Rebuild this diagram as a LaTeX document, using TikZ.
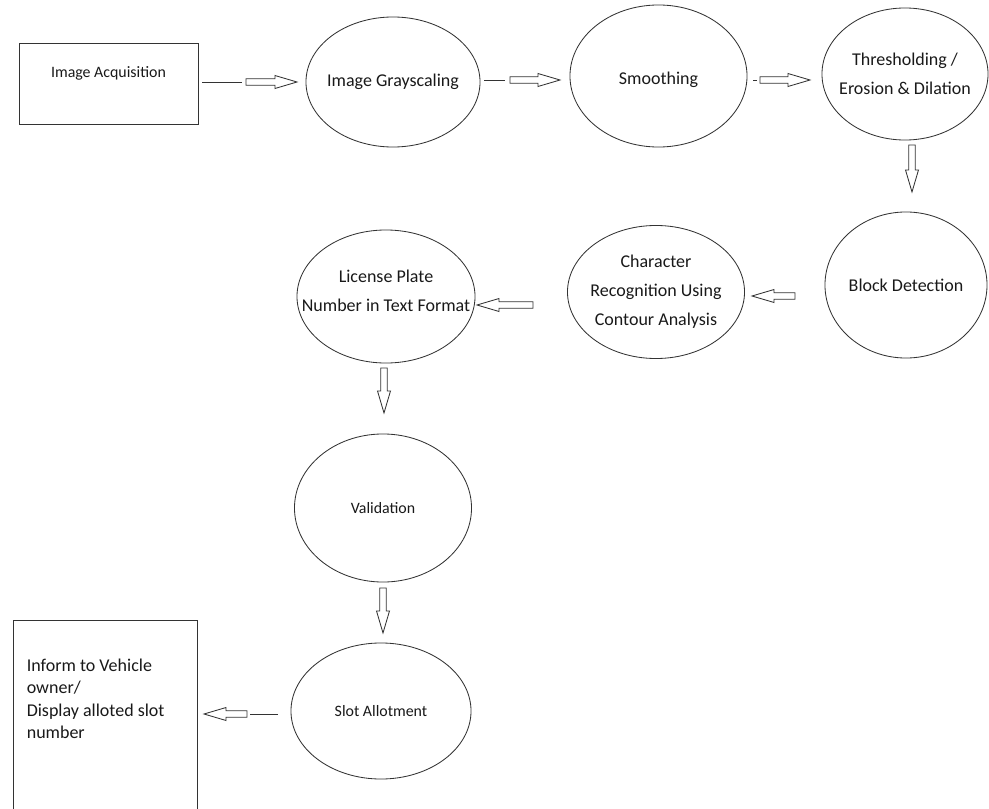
\documentclass[tikz,border=0pt]{standalone}
\usepackage{fontspec}
\setmainfont{Carlito}
\usepackage{tikz}
\usetikzlibrary{shapes.geometric,calc}
\tikzset{%
  process/.style={
    ellipse,
    draw=black!80,
    inner sep=0pt
  },
  io box/.style={
    rectangle,
    draw=black!80,
    inner sep=0pt
  },
  flow text/.style={
    text=black!90,
    align=center,
    font=\fontsize{12.8}{20.5}\selectfont
  },
  flow small/.style={
    text=black!90,
    align=center,
    font=\fontsize{11.3}{16}\selectfont
  },
  flow list/.style={
    text=black!90,
    align=left,
    font=\fontsize{12.8}{16}\selectfont
  },
  block arrow/.style={
    draw=black!80,
    fill=white,
    to path={
      ($(\tikztostart)!2.3pt!90:(\tikztotarget)$)
      -- ($(\tikztotarget)!15.6pt!(\tikztostart)!2.3pt!90:(\tikztotarget)$)
      -- ($(\tikztotarget)!15.6pt!(\tikztostart)!4.6pt!90:(\tikztotarget)$)
      -- (\tikztotarget)
      -- ($(\tikztotarget)!15.6pt!(\tikztostart)!4.6pt!-90:(\tikztotarget)$)
      -- ($(\tikztotarget)!15.6pt!(\tikztostart)!2.3pt!-90:(\tikztotarget)$)
      -- ($(\tikztostart)!2.3pt!-90:(\tikztotarget)$) -- cycle
    }
  },
}

\begin{document}
\begin{tikzpicture}[x=0.025cm, y=-0.025cm, line width=0.6pt]
\useasboundingbox (0,0) rectangle (989,809);
\clip (0,0) rectangle (989,809);

% top row
\node[io box, minimum width=4.475cm, minimum height=2.025cm,
  label={[flow small, yshift=7.5pt]center:Image Acquisition}] (acq) at (108.5,83.5) {};
\node[process, minimum width=4.35cm, minimum height=3.25cm,
  label={[flow text]center:Image Grayscaling}] (gray) at (393,82) {};
\node[process, minimum width=4.425cm, minimum height=3.55cm,
  label={[flow text, yshift=-3pt]center:Smoothing}] (smooth) at (658.5,76) {};
\node[process, minimum width=4.15cm, minimum height=3.3cm,
  label={[flow text]center:{Thresholding /\\Erosion \& Dilation}}] (thresh) at (905,74) {};

% second row
\node[process, minimum width=4.05cm, minimum height=3.65cm,
  label={[flow text]center:Block Detection}] (block) at (906,285) {};
\node[process, minimum width=4.425cm, minimum height=3.325cm,
  label={[flow text]center:{Character\\Recognition Using\\Contour Analysis}}] (char) at (656,292) {};
\node[process, minimum width=4.45cm, minimum height=3.325cm,
  label={[flow text, yshift=4pt]center:{License Plate\\Number in Text Format}}] (plate) at (386,296.5) {};

% left column
\node[process, minimum width=4.425cm, minimum height=3.7cm,
  label={[flow small]center:Validation}] (valid) at (383,508) {};
\node[process, minimum width=4.5cm, minimum height=3.4cm,
  label={[flow small]center:Slot Allotment}] (slot) at (381,711) {};
\node[io box, anchor=north, minimum width=4.6cm, minimum height=6cm,
  label={[flow list, anchor=north west, xshift=6.5pt, yshift=-24pt]north west:{Inform to Vehicle\\owner/\\Display alloted slot\\number}}] (inform) at (105,620) {};

% arrows
\coordinate (g1) at (202,82);
\coordinate (g2) at (242,82);
\coordinate (g3) at (246,82);
\coordinate (g4) at (297,82);
\draw[black!80] (g1) -- (g2);
\draw[block arrow] (g3) to (g4);

\coordinate (s1) at (484,80);
\coordinate (s2) at (505,80);
\coordinate (s3) at (510,80);
\coordinate (s4) at (560,80);
\draw[black!80] (s1) -- (s2);
\draw[block arrow] (s3) to (s4);

\coordinate (t1) at (753,80);
\coordinate (t2) at (757,80);
\coordinate (t3) at (760,80);
\coordinate (t4) at (810,80);
\draw[black!80] (t1) -- (t2);
\draw[block arrow] (t3) to (t4);

\coordinate (b1) at (912,145);
\coordinate (b2) at (912,192);
\draw[block arrow] (b1) to (b2);

\coordinate (c1) at (795,296);
\coordinate (c2) at (752,296);
\draw[block arrow] (c1) to (c2);

\coordinate (p1) at (533,305);
\coordinate (p2) at (477,305);
\draw[block arrow] (p1) to (p2);

\coordinate (v1) at (384,368);
\coordinate (v2) at (384,413);
\draw[block arrow] (v1) to (v2);

\coordinate (l1) at (383,588);
\coordinate (l2) at (383,633);
\draw[block arrow] (l1) to (l2);

\coordinate (i1) at (278,714);
\coordinate (i2) at (250,714);
\coordinate (i3) at (247,714);
\coordinate (i4) at (204,714);
\draw[black!80] (i1) -- (i2);
\draw[block arrow] (i3) to (i4);
\end{tikzpicture}
\end{document}
